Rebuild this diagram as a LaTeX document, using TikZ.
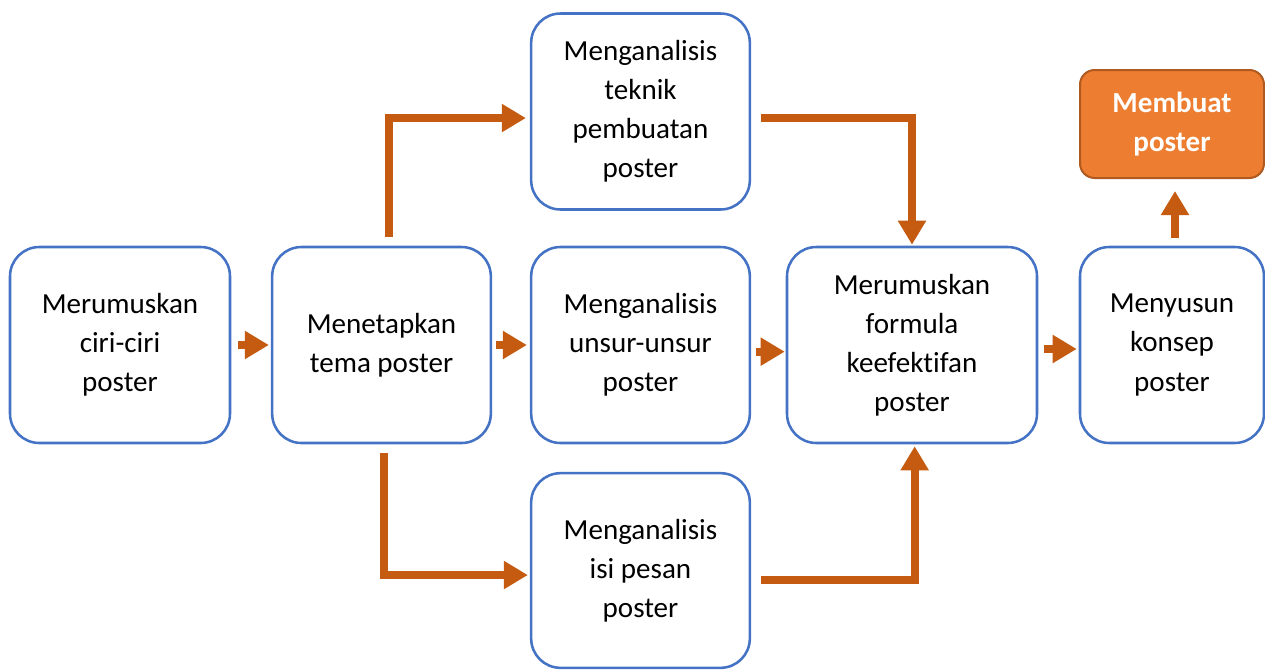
\documentclass[tikz,border=0pt]{standalone}
\usepackage{fontspec}
\setmainfont{Carlito}[Ligatures={NoCommon}]
\usetikzlibrary{arrows.meta}
\definecolor{boxblue}{HTML}{4472C4}
\definecolor{arrorange}{HTML}{C55A11}
\definecolor{fillorange}{HTML}{ED7D31}
\definecolor{darkorange}{HTML}{AE5A21}
\begin{document}
\begin{tikzpicture}[x=0.75pt,y=-0.75pt,
  stepbox/.style={draw=boxblue, line width=1.9pt, rounded corners=22pt, fill=white,
    align=center, inner sep=0pt, font=\fontsize{21.8pt}{29.3pt}\selectfont,
    minimum height=147pt},
  goalbox/.style={draw=darkorange, line width=1.5pt, rounded corners=11pt, fill=fillorange,
    text=white, align=center, inner sep=0pt, font=\fontsize{21.8pt}{29.3pt}\selectfont\bfseries,
    minimum width=138pt, minimum height=81pt},
  arr/.style={draw=arrorange, line width=6pt, line join=miter,
    -{Triangle[width=20pt,length=18pt]}}]
\useasboundingbox (0,0) rectangle (1265,669);
\node[stepbox, minimum width=165pt] (b1) at (120,345) {Merumuskan\\ciri-ciri\\poster};
\node[stepbox, minimum width=164pt] (b2) at (381.5,345) {Menetapkan\\tema poster};
\node[stepbox, minimum width=164pt] (b3) at (640.5,345) {Menganalisis\\unsur-unsur\\poster};
\node[stepbox, minimum width=187.5pt] (b4) at (912,345) {Merumuskan\\formula\\keefektifan\\poster};
\node[stepbox, minimum width=138pt] (b5) at (1172,345) {Menyusun\\konsep\\poster};
\node[stepbox, minimum width=164pt] (t) at (640.5,111.5) {Menganalisis\\teknik\\pembuatan\\poster};
\node[stepbox, minimum width=164pt, minimum height=146pt] (bt) at (640.5,570.5) {Menganalisis\\isi pesan\\poster};
\node[goalbox] (mp) at (1172,124) {Membuat\\poster};
\draw[arr] ([xshift=5.25pt]b1.east) -- ([xshift=-1.5pt]b2.west);
\draw[arr] ([xshift=3pt]b2.east) -- ([xshift=-2.25pt]b3.west);
\draw[arr] ([xshift=3.75pt,yshift=-5pt]b3.east) -- ([xshift=-0.75pt,yshift=-5pt]b4.west);
\draw[arr] ([xshift=4.5pt,yshift=-3pt]b4.east) -- ([xshift=-1.5pt,yshift=-3pt]b5.west);
\draw[arr] ([xshift=2.25pt,yshift=6pt]b5.north) -- ([xshift=2.25pt,yshift=-9pt]mp.south);
\draw[arr] ([xshift=5.6pt,yshift=6.75pt]b2.north) |- ([xshift=-3pt,yshift=-4.9pt]t.west);
\draw[arr] ([xshift=7.5pt,yshift=-4.9pt]t.east) -| ([yshift=0.75pt]b4.north);
\draw[arr] ([xshift=1.9pt,yshift=-6.75pt]b2.south) |- ([xshift=-1.5pt,yshift=-3.4pt]bt.west);
\draw[arr] ([xshift=7.5pt,yshift=-7pt]bt.east) -| ([xshift=2pt,yshift=-1.5pt]b4.south);
\end{tikzpicture}
\end{document}
